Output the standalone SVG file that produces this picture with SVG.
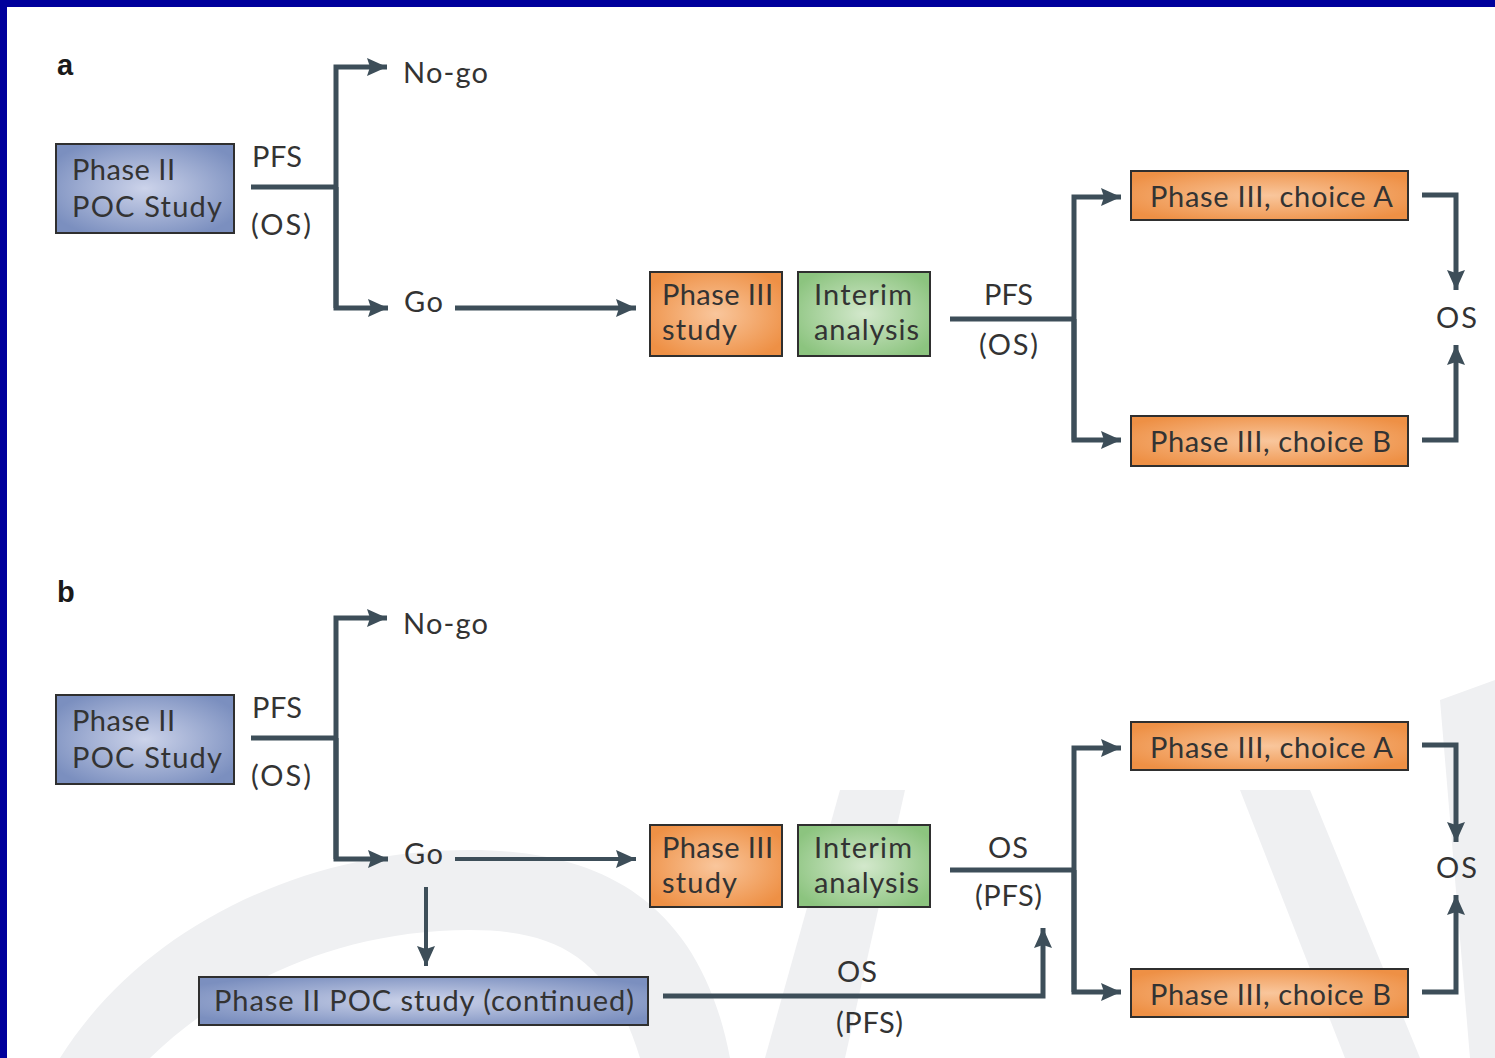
<svg xmlns="http://www.w3.org/2000/svg" width="1495" height="1058" viewBox="0 0 1495 1058">
<defs>
<radialGradient id="gBlue" cx="0.5" cy="0.5" r="0.6"><stop offset="0" stop-color="#ccd3ea"/><stop offset="1" stop-color="#7b8fbf"/></radialGradient>
<radialGradient id="gOrange" cx="0.5" cy="0.5" r="0.6"><stop offset="0" stop-color="#f9c69c"/><stop offset="1" stop-color="#ee9045"/></radialGradient>
<radialGradient id="gGreen" cx="0.5" cy="0.5" r="0.6"><stop offset="0" stop-color="#d3e8cc"/><stop offset="1" stop-color="#8cc47f"/></radialGradient>
<marker id="ah" markerUnits="userSpaceOnUse" markerWidth="22" markerHeight="20" refX="20" refY="9" orient="auto" viewBox="0 0 22 20">
<path d="M0,0 L20,9 L0,18 L3,9 Z" fill="#3d4e59"/>
</marker>
</defs>
<style>
.t{font-family:Lato,"Open Sans","Noto Sans",sans-serif;font-size:29px;fill:#333333}
.lbl{font-family:"Liberation Sans",Arial,sans-serif;font-weight:bold;font-size:29px;fill:#1a1a1a}
.box{stroke:#2f2f2f;stroke-width:2}
.c{fill:none;stroke:#3d4e59;stroke-width:5}
.c4{fill:none;stroke:#3d4e59;stroke-width:4}
.wm{fill:#eff0f2}
</style>
<rect width="1495" height="1058" fill="#ffffff"/>
<g id="watermark">
<path class="wm" d="M60,1058 C140,930 300,850 470,850 C600,850 700,900 730,1058 L640,1058 C610,960 560,930 470,930 C330,930 220,990 150,1058 Z"/>
<path class="wm" d="M765,1058 L840,790 L905,790 L845,1058 Z"/>
<path class="wm" d="M1240,790 L1310,790 L1420,1058 L1345,1058 Z"/>
<path class="wm" d="M1440,700 L1495,680 L1495,1058 L1470,1058 Z"/>
</g>
<rect x="0" y="0" width="1495" height="7" fill="#00009c"/>
<rect x="0" y="0" width="7" height="1058" fill="#00009c"/>
<text class="lbl" x="57" y="75">a</text>
<text class="lbl" x="57" y="602">b</text>
<g id="connectors">
<path class="c" d="M251,187 H336"/>
<path class="c" d="M336,308 V67 H387" marker-end="url(#ah)"/>
<path class="c" d="M336,187 V308 H388" marker-end="url(#ah)"/>
<path class="c" d="M455,308 H636" marker-end="url(#ah)"/>
<path class="c" d="M950,319 H1074"/>
<path class="c" d="M1074,440 V197 H1121" marker-end="url(#ah)"/>
<path class="c" d="M1074,319 V440 H1121" marker-end="url(#ah)"/>
<path class="c" d="M1422,195 H1456 V290" marker-end="url(#ah)"/>
<path class="c" d="M1422,440 H1456 V345" marker-end="url(#ah)"/>
<path class="c" d="M251,738 H336"/>
<path class="c" d="M336,859 V618 H387" marker-end="url(#ah)"/>
<path class="c" d="M336,738 V859 H388" marker-end="url(#ah)"/>
<path class="c4" d="M455,859 H636" marker-end="url(#ah)"/>
<path class="c4" d="M426,887 V966" marker-end="url(#ah)"/>
<path class="c" d="M950,870 H1074"/>
<path class="c" d="M1074,992 V748 H1121" marker-end="url(#ah)"/>
<path class="c" d="M1074,870 V992 H1121" marker-end="url(#ah)"/>
<path class="c" d="M1422,745 H1456 V842" marker-end="url(#ah)"/>
<path class="c" d="M1422,992 H1456 V895" marker-end="url(#ah)"/>
<path class="c" d="M663,996 H1043 V928" marker-end="url(#ah)"/>
</g>
<g id="labels">
<text class="t" x="252" y="167" textLength="50">PFS</text>
<text class="t" x="251" y="235" textLength="60">(OS)</text>
<text class="t" x="403" y="83" textLength="85">No-go</text>
<text class="t" x="404" y="312" textLength="39">Go</text>
<text class="t" x="984" y="305" textLength="49">PFS</text>
<text class="t" x="979" y="355" textLength="59">(OS)</text>
<text class="t" x="1436" y="328" textLength="41">OS</text>
<text class="t" x="252" y="718" textLength="50">PFS</text>
<text class="t" x="251" y="786" textLength="60">(OS)</text>
<text class="t" x="403" y="634" textLength="85">No-go</text>
<text class="t" x="404" y="864" textLength="39">Go</text>
<text class="t" x="988" y="858" textLength="40">OS</text>
<text class="t" x="975" y="906" textLength="67">(PFS)</text>
<text class="t" x="1436" y="878" textLength="41">OS</text>
<text class="t" x="837" y="982" textLength="40">OS</text>
<text class="t" x="836" y="1033" textLength="67">(PFS)</text>
</g>
<g id="a-phase2">
<rect class="box" x="56" y="144" width="178" height="89" fill="url(#gBlue)"/>
<text class="t" x="72" y="180" textLength="103">Phase II</text>
<text class="t" x="72" y="217" textLength="150">POC Study</text>
</g>
<g id="a-phase3">
<rect class="box" x="650" y="272" width="132" height="84" fill="url(#gOrange)"/>
<text class="t" x="662" y="305" textLength="111">Phase III</text>
<text class="t" x="662" y="340" textLength="75">study</text>
</g>
<g id="a-interim">
<rect class="box" x="798" y="272" width="132" height="84" fill="url(#gGreen)"/>
<text class="t" x="814" y="305" textLength="98">Interim</text>
<text class="t" x="814" y="340" textLength="105">analysis</text>
</g>
<g id="a-choiceA">
<rect class="box" x="1131" y="171" width="277" height="49" fill="url(#gOrange)"/>
<text class="t" x="1150" y="207" textLength="243">Phase III, choice A</text>
</g>
<g id="a-choiceB">
<rect class="box" x="1131" y="416" width="277" height="50" fill="url(#gOrange)"/>
<text class="t" x="1150" y="452" textLength="241">Phase III, choice B</text>
</g>
<g id="b-phase2">
<rect class="box" x="56" y="695" width="178" height="89" fill="url(#gBlue)"/>
<text class="t" x="72" y="731" textLength="103">Phase II</text>
<text class="t" x="72" y="768" textLength="150">POC Study</text>
</g>
<g id="b-phase3">
<rect class="box" x="650" y="825" width="132" height="82" fill="url(#gOrange)"/>
<text class="t" x="662" y="858" textLength="111">Phase III</text>
<text class="t" x="662" y="893" textLength="75">study</text>
</g>
<g id="b-interim">
<rect class="box" x="798" y="825" width="132" height="82" fill="url(#gGreen)"/>
<text class="t" x="814" y="858" textLength="98">Interim</text>
<text class="t" x="814" y="893" textLength="105">analysis</text>
</g>
<g id="b-choiceA">
<rect class="box" x="1131" y="722" width="277" height="48" fill="url(#gOrange)"/>
<text class="t" x="1150" y="758" textLength="243">Phase III, choice A</text>
</g>
<g id="b-choiceB">
<rect class="box" x="1131" y="969" width="277" height="48" fill="url(#gOrange)"/>
<text class="t" x="1150" y="1005" textLength="241">Phase III, choice B</text>
</g>
<g id="b-phase2cont">
<rect class="box" x="199" y="977" width="449" height="48" fill="url(#gBlue)"/>
<text class="t" x="214" y="1011" textLength="420">Phase II POC study (continued)</text>
</g>
</svg>
